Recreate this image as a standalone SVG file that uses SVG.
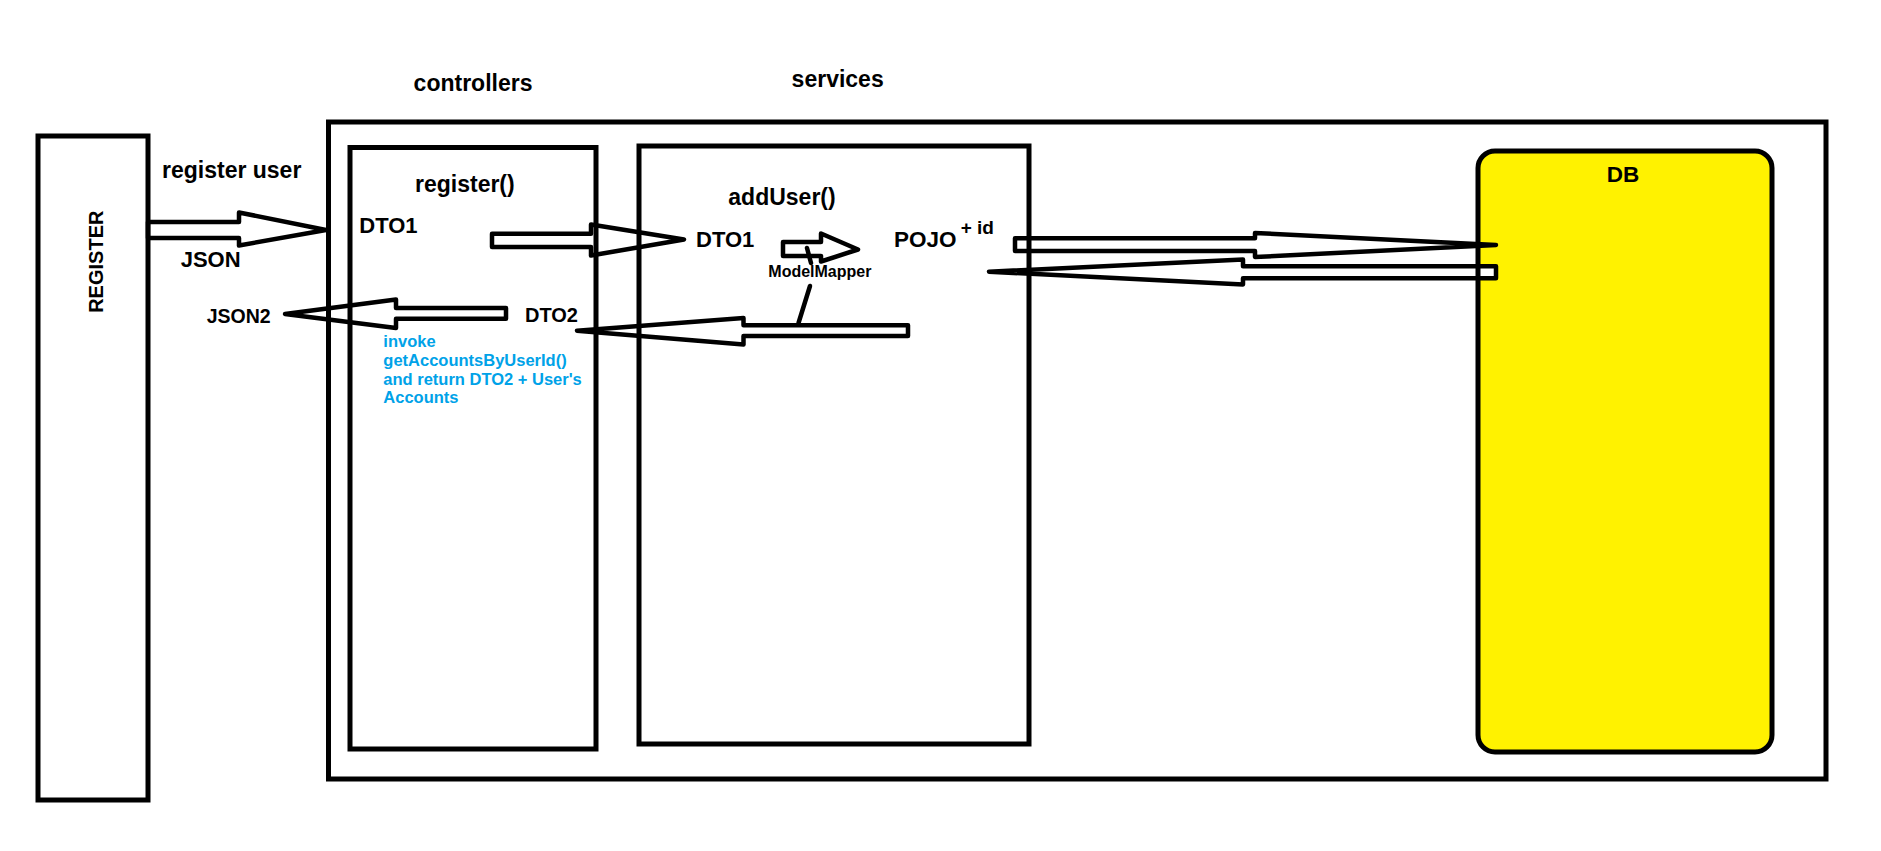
<svg xmlns="http://www.w3.org/2000/svg" width="1881" height="851" viewBox="0 0 1881 851">
  <style>
    text { font-family: "Liberation Sans", Arial, sans-serif; font-weight: bold; fill: #000; }
    .box { fill: none; stroke: #000; stroke-width: 5; }
    .arrow { fill: #fff; stroke: #000; stroke-width: 4.5; stroke-linejoin: round; }
    .link { fill: none; stroke: #000; stroke-width: 4.5; stroke-linecap: round; }
    .title { font-size: 23px; }
    .lbl { font-size: 22px; }
    .note { font-size: 16.5px; fill: #00A2E8; }
  </style>

  <rect width="1881" height="851" fill="#fff"/>

  <!-- yellow body of the database, kept under the flow arrows -->
  <rect id="db-fill" x="1478" y="151" width="294" height="601" rx="17" fill="#FFF200"/>

  <!-- flow arrows -->
  <g id="connectors">
    <polygon class="arrow" points="148,222 239,222 239,212.5 326,230 239,245.5 239,238 148,238"/>
    <text class="title" x="162" y="177.7">register user</text>
    <text class="lbl" x="180.7" y="267">JSON</text>

    <polygon class="arrow" points="492,233.7 591,233.7 591,224.5 684,239.5 591,255.5 591,247 492,247"/>

    <polygon class="arrow" points="506,308 396,308 396,299.5 285,314 396,328 396,318.7 506,318.7"/>
    <text x="206.7" y="323.3" style="font-size:19.5px">JSON2</text>

    <polygon class="arrow" points="783,242 821,242 821,233.5 858,249.5 821,261.5 821,256 783,256"/>
    <line class="link" x1="807" y1="248" x2="811" y2="263"/>

    <polygon class="arrow" points="908,325.3 743.5,325.3 743.5,318 577,330.7 743.5,344.5 743.5,336 908,336"/>
    <line class="link" x1="810" y1="286" x2="798.5" y2="323"/>
    <text x="768.3" y="277.3" style="font-size:16px">ModelMapper</text>

    <polygon class="arrow" points="1015,238.3 1255,238.3 1255,233 1496,245 1255,257 1255,251 1015,251"/>
    <polygon class="arrow" points="1496,266.3 1243,266.3 1243,259.5 989,271.7 1243,284.5 1243,278.3 1496,278.3"/>
  </g>

  <!-- client -->
  <g id="register-client">
    <rect class="box" x="38" y="136" width="110" height="664"/>
    <text transform="translate(103.3,261.7) rotate(-90)" text-anchor="middle" style="font-size:20px">REGISTER</text>
  </g>

  <!-- application boundary -->
  <g id="application">
    <rect class="box" x="328.5" y="122" width="1497.5" height="657"/>
  </g>

  <!-- controller layer -->
  <g id="controllers">
    <text class="title" x="413.6" y="90.5">controllers</text>
    <rect class="box" x="350" y="147.5" width="246" height="601.5"/>
    <text class="title" x="415" y="191.7">register()</text>
    <text class="lbl" x="359.3" y="233.3">DTO1</text>
    <text x="525" y="321.7" style="font-size:20px">DTO2</text>
    <text class="note">
      <tspan x="383.3" y="346.7">invoke</tspan>
      <tspan x="383.3" y="365.7">getAccountsByUserId()</tspan>
      <tspan x="383.3" y="384.5">and return DTO2 + User's</tspan>
      <tspan x="383.3" y="403.3">Accounts</tspan>
    </text>
  </g>

  <!-- service layer -->
  <g id="services">
    <text class="title" x="791.6" y="87">services</text>
    <rect class="box" x="639" y="146" width="390" height="598"/>
    <text class="title" x="728.3" y="205">addUser()</text>
    <text class="lbl" x="696" y="246.7">DTO1</text>
    <text x="894" y="247.3" style="font-size:22.5px">POJO</text>
    <text x="960.7" y="234" style="font-size:19px">+ id</text>
  </g>

  <!-- database -->
  <g id="db">
    <rect class="box" x="1478" y="151" width="294" height="601" rx="17"/>
    <text x="1623" y="181.7" text-anchor="middle" style="font-size:22.5px">DB</text>
  </g>
</svg>
